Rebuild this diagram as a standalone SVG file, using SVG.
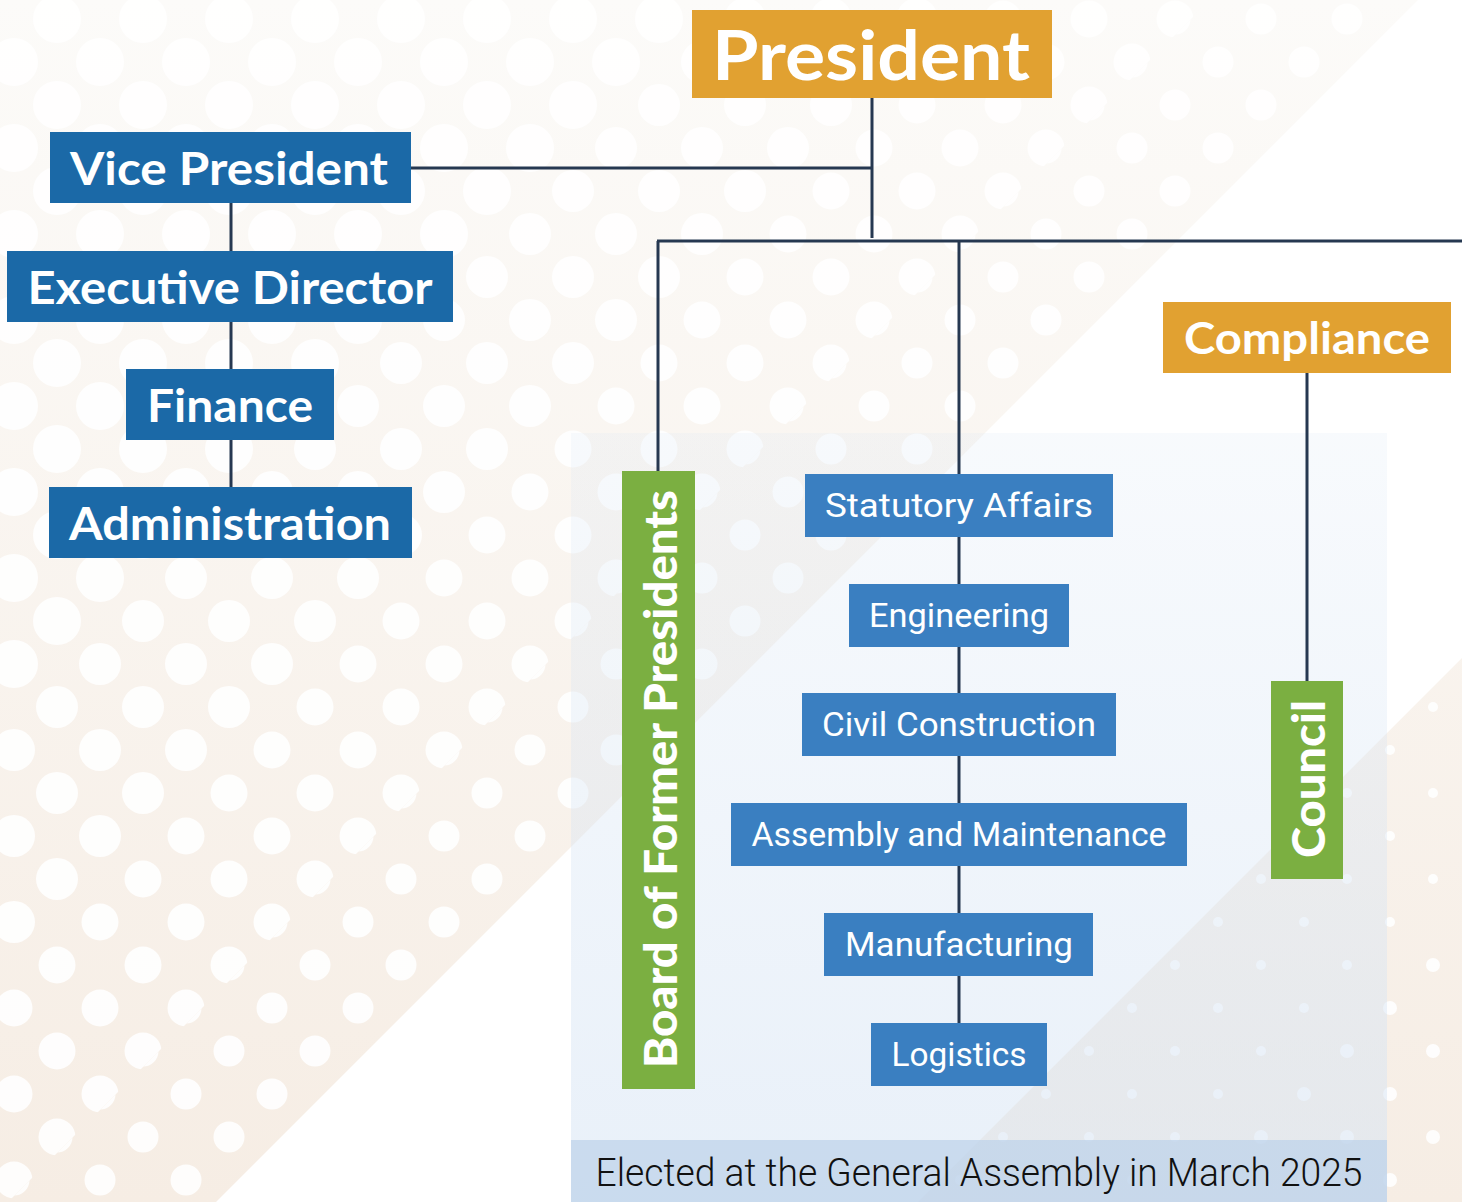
<svg xmlns="http://www.w3.org/2000/svg" width="1462" height="1202" viewBox="0 0 1462 1202">
  <defs>
    <linearGradient id="beige" x1="0" y1="0" x2="0" y2="1202" gradientUnits="userSpaceOnUse">
      <stop offset="0" stop-color="#FCFBF9"/>
      <stop offset="1" stop-color="#F6EDE4"/>
    </linearGradient>
    <linearGradient id="panelGrad" x1="0" y1="433" x2="0" y2="1202" gradientUnits="userSpaceOnUse">
      <stop offset="0" stop-color="#D6E4F4" stop-opacity="0.18"/>
      <stop offset="1" stop-color="#D6E4F4" stop-opacity="0.55"/>
    </linearGradient>
    <pattern id="d24" width="86" height="86" patternUnits="userSpaceOnUse">
      <circle cx="57" cy="19" r="24" fill="#FFFFFF"/>
      <circle cx="14" cy="62" r="24" fill="#FFFFFF"/>
      <circle cx="100" cy="62" r="24" fill="#FFFFFF"/>
      <circle cx="57" cy="105" r="24" fill="#FFFFFF"/>
      <circle cx="-29" cy="19" r="24" fill="#FFFFFF"/>
      <circle cx="14" cy="-24" r="24" fill="#FFFFFF"/>
      <circle cx="100" cy="-24" r="24" fill="#FFFFFF"/>
      <circle cx="-29" cy="105" r="24" fill="#FFFFFF"/>
    </pattern>
    <pattern id="d21" width="86" height="86" patternUnits="userSpaceOnUse">
      <circle cx="57" cy="19" r="21" fill="#FFFFFF"/>
      <circle cx="14" cy="62" r="21" fill="#FFFFFF"/>
      <circle cx="100" cy="62" r="21" fill="#FFFFFF"/>
      <circle cx="57" cy="105" r="21" fill="#FFFFFF"/>
      <circle cx="-29" cy="19" r="21" fill="#FFFFFF"/>
      <circle cx="14" cy="-24" r="21" fill="#FFFFFF"/>
      <circle cx="100" cy="-24" r="21" fill="#FFFFFF"/>
      <circle cx="-29" cy="105" r="21" fill="#FFFFFF"/>
    </pattern>
    <pattern id="d18" width="86" height="86" patternUnits="userSpaceOnUse">
      <circle cx="57" cy="19" r="18.5" fill="#FFFFFF"/>
      <circle cx="14" cy="62" r="18.5" fill="#FFFFFF"/>
      <circle cx="100" cy="62" r="18.5" fill="#FFFFFF"/>
      <circle cx="57" cy="105" r="18.5" fill="#FFFFFF"/>
      <circle cx="-29" cy="19" r="18.5" fill="#FFFFFF"/>
      <circle cx="14" cy="-24" r="18.5" fill="#FFFFFF"/>
      <circle cx="100" cy="-24" r="18.5" fill="#FFFFFF"/>
      <circle cx="-29" cy="105" r="18.5" fill="#FFFFFF"/>
    </pattern>
    <pattern id="d15" width="86" height="86" patternUnits="userSpaceOnUse">
      <circle cx="57" cy="19" r="15.5" fill="#FFFFFF"/>
      <circle cx="14" cy="62" r="15.5" fill="#FFFFFF"/>
      <circle cx="100" cy="62" r="15.5" fill="#FFFFFF"/>
      <circle cx="57" cy="105" r="15.5" fill="#FFFFFF"/>
      <circle cx="-29" cy="19" r="15.5" fill="#FFFFFF"/>
      <circle cx="14" cy="-24" r="15.5" fill="#FFFFFF"/>
      <circle cx="100" cy="-24" r="15.5" fill="#FFFFFF"/>
      <circle cx="-29" cy="105" r="15.5" fill="#FFFFFF"/>
    </pattern>
    <pattern id="d7" width="86" height="86" patternUnits="userSpaceOnUse">
      <circle cx="57" cy="19" r="7" fill="#FFFFFF"/>
      <circle cx="14" cy="62" r="7" fill="#FFFFFF"/>
      <circle cx="100" cy="62" r="7" fill="#FFFFFF"/>
      <circle cx="-29" cy="19" r="7" fill="#FFFFFF"/>
    </pattern>
    <pattern id="d5" width="86" height="86" patternUnits="userSpaceOnUse">
      <circle cx="57" cy="19" r="5" fill="#FFFFFF"/>
      <circle cx="14" cy="62" r="5" fill="#FFFFFF"/>
      <circle cx="100" cy="62" r="5" fill="#FFFFFF"/>
      <circle cx="-29" cy="19" r="5" fill="#FFFFFF"/>
    </pattern>
    <style>
      .conn { stroke: #263851; stroke-width: 3; fill: none; }
      .dark { fill: #1B69A7; }
      .mid { fill: #3A7FC1; }
      .orange { fill: #E1A131; }
      .green { fill: #7BAF41; }
      .head { font-family: "Lato", "Open Sans", "Liberation Sans", sans-serif; font-weight: 700; fill: #FFFFFF; text-anchor: middle; }
      .heavy { font-weight: 900; }
      .dept { font-family: "Roboto", "Liberation Sans", sans-serif; font-weight: 400; font-size: 33px; fill: #FFFFFF; text-anchor: middle; }
      .note { font-family: "Roboto", "Liberation Sans", sans-serif; font-weight: 300; font-size: 38px; fill: #111111; text-anchor: middle; }
    </style>
  </defs>

  <!-- background -->
  <rect x="0" y="0" width="1462" height="1202" fill="#FFFFFF"/>
  <polygon points="0,0 1418,0 216,1202 0,1202" fill="url(#beige)"/>
  <polygon points="1462,658 1462,1202 918,1202" fill="url(#beige)"/>
  <polygon points="0,0 720,0 0,720" fill="url(#d24)" opacity="0.9"/>
  <polygon points="720,0 990,0 0,990 0,720" fill="url(#d21)" opacity="0.9"/>
  <polygon points="990,0 1210,0 0,1210 0,990" fill="url(#d18)" opacity="0.9"/>
  <polygon points="1210,0 1418,0 216,1202 8,1202" fill="url(#d15)" opacity="0.9"/>
  <polygon points="1462,658 1462,900 1160,1202 918,1202" fill="url(#d5)" opacity="0.9"/>
  <polygon points="1462,900 1462,1202 1160,1202" fill="url(#d7)" opacity="0.9"/>

  <!-- panel -->
  <rect x="571" y="433" width="816" height="769" fill="url(#panelGrad)"/>
  <rect x="571" y="1140" width="816" height="62" fill="#BCD2E9" opacity="0.7"/>
  <text class="note" x="979" y="1186" textLength="767" lengthAdjust="spacingAndGlyphs">Elected at the General Assembly in March 2025</text>

  <!-- connectors -->
  <g id="connectors">
    <line class="conn" x1="872" y1="98" x2="872" y2="238"/>
    <line class="conn" x1="411" y1="168" x2="872" y2="168"/>
    <line class="conn" x1="657" y1="241" x2="1462" y2="241"/>
    <line class="conn" x1="658" y1="241" x2="658" y2="471"/>
    <line class="conn" x1="959" y1="241" x2="959" y2="1023"/>
    <line class="conn" x1="231" y1="203" x2="231" y2="487"/>
    <line class="conn" x1="1307" y1="373" x2="1307" y2="681"/>
  </g>

  <g id="president">
    <rect class="orange" x="692" y="10" width="360" height="88"/>
    <text class="head" x="871" y="80" font-size="68" textLength="318" lengthAdjust="spacingAndGlyphs">President</text>
  </g>
  <g id="vice-president">
    <rect class="dark" x="50" y="132" width="361" height="71"/>
    <text class="head" x="229" y="185" font-size="45" textLength="318" lengthAdjust="spacingAndGlyphs">Vice President</text>
  </g>
  <g id="executive-director">
    <rect class="dark" x="7" y="251" width="446" height="71"/>
    <text class="head" x="230" y="304" font-size="45" textLength="405" lengthAdjust="spacingAndGlyphs">Executive Director</text>
  </g>
  <g id="finance">
    <rect class="dark" x="126" y="369" width="208" height="71"/>
    <text class="head" x="230" y="422" font-size="45" textLength="166" lengthAdjust="spacingAndGlyphs">Finance</text>
  </g>
  <g id="administration">
    <rect class="dark" x="49" y="487" width="363" height="71"/>
    <text class="head" x="230" y="540" font-size="45" textLength="322" lengthAdjust="spacingAndGlyphs">Administration</text>
  </g>
  <g id="compliance">
    <rect class="orange" x="1163" y="302" width="288" height="71"/>
    <text class="head" x="1307" y="354" font-size="43" textLength="246" lengthAdjust="spacingAndGlyphs">Compliance</text>
  </g>
  <g id="council">
    <rect class="green" x="1271" y="681" width="72" height="198"/>
    <text class="head heavy" transform="translate(1325,779) rotate(-90)" x="0" y="0" font-size="46" textLength="158" lengthAdjust="spacingAndGlyphs">Council</text>
  </g>
  <g id="board-of-former-presidents">
    <rect class="green" x="622" y="471" width="73" height="618"/>
    <text class="head heavy" transform="translate(677,779) rotate(-90)" x="0" y="0" font-size="46" textLength="578" lengthAdjust="spacingAndGlyphs">Board of Former Presidents</text>
  </g>
  <g id="statutory-affairs">
    <rect class="mid" x="805" y="474" width="308" height="63"/>
    <text class="dept" x="959" y="517" textLength="268" lengthAdjust="spacingAndGlyphs">Statutory Affairs</text>
  </g>
  <g id="engineering">
    <rect class="mid" x="849" y="584" width="220" height="63"/>
    <text class="dept" x="959" y="627" textLength="180" lengthAdjust="spacingAndGlyphs">Engineering</text>
  </g>
  <g id="civil-construction">
    <rect class="mid" x="802" y="693" width="314" height="63"/>
    <text class="dept" x="959" y="736" textLength="274" lengthAdjust="spacingAndGlyphs">Civil Construction</text>
  </g>
  <g id="assembly-and-maintenance">
    <rect class="mid" x="731" y="803" width="456" height="63"/>
    <text class="dept" x="959" y="846" textLength="415" lengthAdjust="spacingAndGlyphs">Assembly and Maintenance</text>
  </g>
  <g id="manufacturing">
    <rect class="mid" x="824" y="913" width="269" height="63"/>
    <text class="dept" x="959" y="956" textLength="228" lengthAdjust="spacingAndGlyphs">Manufacturing</text>
  </g>
  <g id="logistics">
    <rect class="mid" x="871" y="1023" width="176" height="63"/>
    <text class="dept" x="959" y="1066" textLength="135" lengthAdjust="spacingAndGlyphs">Logistics</text>
  </g>
</svg>
